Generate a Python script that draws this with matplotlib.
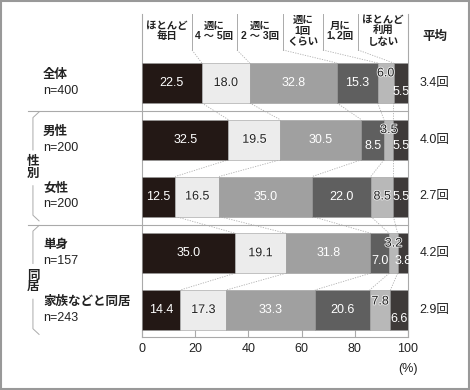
import matplotlib.pyplot as plt
import matplotlib.patheffects as pe
import numpy as np

plt.rcParams['font.family'] = ['Liberation Sans', 'Noto Sans CJK JP', 'DejaVu Sans']

# data
categories = ["ほとんど\n毎日", "週に\n4 ～ 5回", "週に\n2 ～ 3回", "週に\n1回\nくらい", "月に\n1､2回", "ほとんど\n利用\nしない"]
row_names = ["全体", "男性", "女性", "単身", "家族などと同居"]
row_n = ["n=400", "n=200", "n=200", "n=157", "n=243"]
values = np.array([
    [22.5, 18.0, 32.8, 15.3, 6.0, 5.5],
    [32.5, 19.5, 30.5, 8.5, 3.5, 5.5],
    [12.5, 16.5, 35.0, 22.0, 8.5, 5.5],
    [35.0, 19.1, 31.8, 7.0, 3.2, 3.8],
    [14.4, 17.3, 33.3, 20.6, 7.8, 6.6],
])
averages = ["3.4回", "4.0回", "2.7回", "4.2回", "2.9回"]
groups = [("性\n別", 1, 2), ("同\n居", 3, 4)]

colors = ["#231815", "#ececec", "#a0a0a0", "#5f5f5f", "#b8b8b8", "#3e3a39"]
text_colors = ["white", "#222222", "white", "white", "#222222", "white"]
# vertical nudges for cramped labels (row, seg) -> offset in row units
nudge = {(0, 4): -0.17, (0, 5): 0.16, (1, 3): 0.11, (1, 4): -0.17, (1, 5): 0.11,
         (3, 3): 0.13, (3, 4): -0.17, (3, 5): 0.13, (4, 4): -0.15, (4, 5): 0.15}

PX = 56.75  # pixels per row unit
def py(px):
    return (px - 83) / PX

fig = plt.figure(figsize=(4.7, 3.9), dpi=100)
ax = fig.add_axes([142/470, (390-337)/390, 266/470, (337-14)/390])

ypos = np.arange(len(row_names))
h = 40 / PX
line_c = "#aaaaaa"

left = np.zeros(len(row_names))
for j in range(len(categories)):
    ax.barh(ypos, values[:, j], left=left, height=h, color=colors[j],
            edgecolor="#9a9a9a", linewidth=0.4, zorder=3)
    for i in range(len(row_names)):
        cx = left[i] + values[i, j] / 2
        dy = nudge.get((i, j), 0)
        tc = text_colors[j]
        t = ax.text(cx, ypos[i] + dy, f"{values[i, j]:.1f}", ha="center", va="center",
                    color=tc, fontsize=9, zorder=5)
        if tc != "white":
            t.set_path_effects([pe.withStroke(linewidth=1.2, foreground="#f4f4f4")])
    left += values[:, j]

cum = np.cumsum(values, axis=1)[:, :-1]

# dotted connectors between bars
for i in range(len(row_names) - 1):
    for k in range(cum.shape[1]):
        ax.plot([cum[i, k], cum[i + 1, k]], [ypos[i] + h/2, ypos[i + 1] - h/2],
                color="#b0b0b0", lw=0.6, ls=(0, (1.5, 1.5)), zorder=2)

# header columns
col_lines = [18.8, 35.7, 53.0, 68.0, 81.2]
col_edges = [0] + col_lines + [100]
for k, xl in enumerate(col_lines):
    ax.plot([xl, xl], [py(14), py(50)], color=line_c, lw=0.7, zorder=2)
    ax.plot([xl, cum[0, k]], [py(50), ypos[0] - h/2], color="#b0b0b0", lw=0.6,
            ls=(0, (1.5, 1.5)), zorder=2)
for k, cat in enumerate(categories):
    ax.text((col_edges[k] + col_edges[k + 1]) / 2, py(31), cat, ha="center", va="center",
            fontsize=7.5, fontweight="bold", linespacing=1.1, color="#222222")
ax.text(110, py(37), "平均", ha="center", va="center", fontsize=9,
        fontweight="bold", color="#222222", clip_on=False)

# averages
for i, a in enumerate(averages):
    ax.text(110, ypos[i], a, ha="center", va="center", fontsize=9,
            color="#222222", clip_on=False)

# row labels
for i in range(len(row_names)):
    ax.text(-37.2, ypos[i] - 0.14, row_names[i], ha="left", va="center",
            fontsize=9, fontweight="bold", color="#222222", clip_on=False)
    ax.text(-37.2, ypos[i] + 0.14, row_n[i], ha="left", va="center",
            fontsize=9, color="#222222", clip_on=False)

# separators
for ys in [0.5, 2.5]:
    ax.plot([-42.9, 100], [ys, ys], color=line_c, lw=0.8, clip_on=False, zorder=2)

# group brackets
bx, hx = -41.0, -38.7
for name, r1, r2 in groups:
    top, b1 = r1 - 0.44, r1 + 0.18
    b2, bot = r2 - 0.19, r2 + 0.38
    ax.plot([hx, bx, bx], [top - 0.05, top + 0.05, b1], color=line_c, lw=0.7, clip_on=False)
    ax.plot([bx, bx, hx], [b2, bot - 0.05, bot + 0.05], color=line_c, lw=0.7, clip_on=False)
    ax.text(bx, (r1 + r2) / 2, name, ha="center", va="center", fontsize=9,
            fontweight="bold", linespacing=0.95, color="#222222", clip_on=False)

ax.set_xlim(0, 100)
ax.set_ylim(py(337), py(14))
ax.set_yticks([])
ax.set_xticks([0, 20, 40, 60, 80, 100])
ax.tick_params(axis="x", direction="in", length=5, color=line_c, labelsize=9,
               labelcolor="#222222", pad=4)
for s in ["left", "right", "bottom"]:
    ax.spines[s].set_color(line_c)
    ax.spines[s].set_linewidth(0.8)
ax.spines["top"].set_visible(False)
ax.text(100, py(369), "(%)", ha="center", va="center", fontsize=9,
        color="#222222", clip_on=False)

# outer frame
fig.patches.append(plt.Rectangle((0.002, 0.003), 0.996, 0.994, transform=fig.transFigure,
                                 fill=False, edgecolor="#999999", lw=1.5))

fig.savefig("out.png", dpi=100)
